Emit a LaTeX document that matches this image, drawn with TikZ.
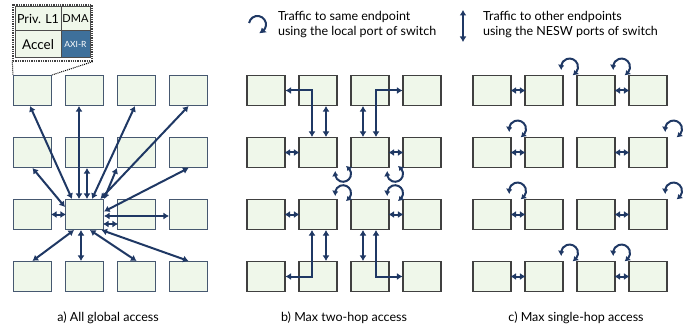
\documentclass[tikz,border=0pt]{standalone}
\usepackage{fontspec}
\setmainfont{Lato}
\usetikzlibrary{arrows.meta,bending}
\definecolor{tilegreen}{RGB}{239,247,234}
\definecolor{slate}{RGB}{70,88,112}
\definecolor{navy}{RGB}{31,56,100}
\definecolor{axiblue}{RGB}{62,112,155}
\tikzset{
  >={Latex[length=5.5pt,width=7pt]},
}
\tikzstyle{tile}=[draw=slate,fill=tilegreen,line width=1.1pt,minimum width=38pt,minimum height=30pt,inner sep=0pt]
\tikzstyle{tileb}=[tile,draw=black!75]
\tikzstyle{cell}=[draw=black!70,fill=tilegreen,line width=1pt,inner sep=0pt]
\tikzstyle{link}=[navy,line width=2pt,<->]
\tikzstyle{hop}=[link,shorten <=-1pt,shorten >=-1pt]
\tikzstyle{uturn}=[navy,line width=2pt,{Latex[length=5pt,width=6.5pt,bend]}-{Latex[length=5pt,width=6.5pt,bend]}]
\tikzstyle{every node}=[font=\fontsize{12.5}{15}\selectfont]

\begin{document}
\begin{tikzpicture}[x=1pt,y=1pt]
    \useasboundingbox (0,0) rectangle (697,330);
    % the three 4x4 meshes
    \foreach \r in {1,...,4}
      \foreach \k in {1,...,4} {
        \node[tile] (a\r\k) at ({32.5+52*(\k-1)},{301.5-62*\r}) {};
        \node[tileb] (b\r\k) at ({266+52*(\k-1)},{301.5-62*\r}) {};
        \node[tileb] (c\r\k) at ({492+52*(\k-1)},{301.5-62*\r}) {};
      }
    % zoom into one tile
    \node[draw=black!75,densely dotted,line width=1.3pt,minimum width=79pt,minimum height=56pt] (zoom) at (52.5,297) {};
    \node[cell,minimum width=46pt,minimum height=24pt,font=\fontsize{12.5}{13}\selectfont] (priv) at (38,311) {Priv. L1};
    \node[cell,minimum width=29pt,minimum height=24pt,font=\fontsize{11}{11}\selectfont] (dma) at (75.5,311) {DMA};
    \node[cell,minimum width=46pt,minimum height=27pt,font=\fontsize{13.5}{14}\selectfont] (accel) at (38,285.5) {Accel};
    \node[cell,fill=axiblue,text=white,minimum width=29pt,minimum height=27pt,font=\fontsize{8.5}{9}\selectfont] (axi) at (75.5,285.5) {AXI-R};
    \draw[densely dotted,line width=1pt] (zoom.south west) -- (a11.north west);
    \draw[densely dotted,line width=1pt] (zoom.south east) -- (a11.north east);
    % a) all global
    \draw[link] ([xshift=-12.5]a32.north) -- ([xshift=-2.5]a11.south);
    \draw[link] ([xshift=-5.5]a32.north) -- ([xshift=-5.5]a12.south);
    \draw[link] ([xshift=7.5]a32.north) -- ([xshift=-1.5]a13.south);
    \draw[link] ([xshift=16]a32.north) -- (a14.south);
    \draw[link] ([yshift=7.5]a32.west) -- (a21.south);
    \draw[link] ([xshift=2.5]a32.north) -- ([xshift=2.5]a22.south);
    \draw[link] (a32.north east) -- (a23.south west);
    \draw[link] ([yshift=3]a32.east) -- (a24.south);
    \draw[hop] (a32.west) -- (a31.east);
    \draw[hop] ([yshift=-9.5]a32.east) -- ([yshift=-9.5]a33.west);
    \draw[link] ([yshift=-1.5]a32.east) -- ([yshift=-1.5]a34.west);
    \draw[link] ([xshift=-10.5]a32.south) -- (a41.north);
    \draw[link] ([xshift=-3.5]a32.south) -- ([xshift=-3.5]a42.north);
    \draw[link] ([xshift=5.5]a32.south) -- (a43.north);
    \draw[link] ([xshift=17]a32.south) -- (a44.north);
    % b) two hops
    \draw[link] (b11.east) -| ([xshift=-6]b22.north);
    \draw[link] ([xshift=8]b12.south) -- ([xshift=8]b22.north);
    \draw[link] ([xshift=-7]b13.south) -- ([xshift=-7]b23.north);
    \draw[link] (b14.west) -| ([xshift=6]b23.north);
    \draw[hop] (b21.east) -- (b22.west);
    \draw[hop] (b23.east) -- (b24.west);
    \draw[hop] (b31.east) -- (b32.west);
    \draw[hop] (b33.east) -- (b34.west);
    \draw[link] (b41.east) -| ([xshift=-6]b32.south);
    \draw[link] ([xshift=8]b42.north) -- ([xshift=8]b32.south);
    \draw[link] ([xshift=-7]b43.north) -- ([xshift=-7]b33.south);
    \draw[link] (b44.west) -| ([xshift=6]b33.south);
    \draw[uturn] ([shift={(-2,-3)}]b22.south east) arc[start angle=160,end angle=430,radius=8];
    \draw[uturn] ([shift={(-2,-3)}]b23.south east) arc[start angle=160,end angle=430,radius=8];
    \draw[uturn] ([shift={(-2,3)}]b32.north east) arc[start angle=200,end angle=-70,radius=8];
    \draw[uturn] ([shift={(-2,3)}]b33.north east) arc[start angle=200,end angle=-70,radius=8];
    % c) single hop
    \draw[hop] (c11.east) -- (c12.west);
    \draw[hop] (c13.east) -- (c14.west);
    \draw[hop] (c21.east) -- (c22.west);
    \draw[hop] (c23.east) -- (c24.west);
    \draw[hop] (c31.east) -- (c32.west);
    \draw[hop] (c33.east) -- (c34.west);
    \draw[hop] (c41.east) -- (c42.west);
    \draw[hop] (c43.east) -- (c44.west);
    \draw[uturn] ([shift={(-2,5)}]c12.north east) arc[start angle=200,end angle=-70,radius=8.5];
    \draw[uturn] ([shift={(-2,5)}]c13.north east) arc[start angle=200,end angle=-70,radius=8.5];
    \draw[uturn] ([shift={(-2,5)}]c21.north east) arc[start angle=200,end angle=-70,radius=8.5];
    \draw[uturn] ([shift={(-2,5)}]c24.north east) arc[start angle=200,end angle=-70,radius=8.5];
    \draw[uturn] ([shift={(-2,5)}]c31.north east) arc[start angle=200,end angle=-70,radius=8.5];
    \draw[uturn] ([shift={(-2,5)}]c34.north east) arc[start angle=200,end angle=-70,radius=8.5];
    \draw[uturn] ([shift={(-2,5)}]c42.north east) arc[start angle=200,end angle=-70,radius=8.5];
    \draw[uturn] ([shift={(-2,5)}]c43.north east) arc[start angle=200,end angle=-70,radius=8.5];
    % legend
    \draw[navy,line width=2pt,-{Latex[length=6pt,width=7pt,bend]}] (249.1,307) arc[start angle=170,end angle=-80,radius=8.5];
    \node[anchor=west,align=left] (samekey) at (274.5,305.5) {Traffic to same endpoint\\using the local port of switch};
    \coordinate (up) at (463,320);
    \coordinate (dn) at (463,288);
    \draw[link] (up) -- (dn);
    \node[anchor=west,align=left] (otherkey) at (479.5,305.5) {Traffic to other endpoints\\using the NESW ports of switch};
    % captions
    \node (capa) at (108,12) {a) All global access};
    \node (capb) at (344,12) {b) Max two-hop access};
    \node (capc) at (576,12) {c) Max single-hop access};
\end{tikzpicture}
\end{document}
